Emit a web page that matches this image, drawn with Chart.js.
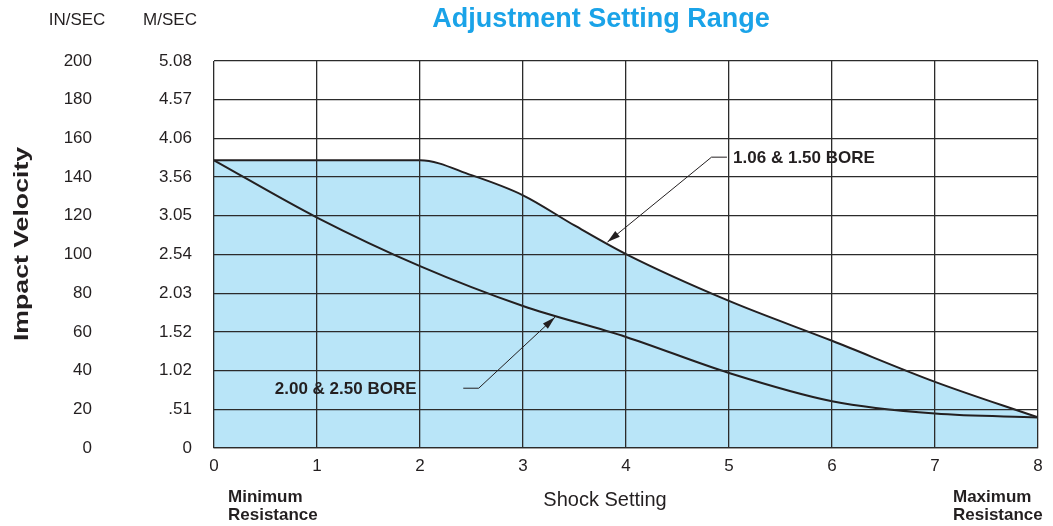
<!DOCTYPE html>
<html>
<head>
<meta charset="utf-8">
<title>Adjustment Setting Range</title>
<script src="https://cdn.jsdelivr.net/npm/chart.js@4.4.1/dist/chart.umd.min.js"></script>
<style>
  html, body { margin: 0; padding: 0; background: #fff; }
  #wrap { position: relative; width: 1053px; height: 526px; }
</style>
</head>
<body>
<div id="wrap"><canvas id="chart"></canvas></div>
<script>
  /* ---------- data ---------- */
  // shock setting positions, 0 = minimum resistance, 8 = maximum
  const SETTING_TICKS = ['0', '1', '2', '3', '4', '5', '6', '7', '8'];
  const IN_SEC_TICKS = ['0', '20', '40', '60', '80', '100', '120', '140', '160', '180', '200'];
  const M_SEC_TICKS = ['0', '.51', '1.02', '1.52', '2.03', '2.54', '3.05', '3.56', '4.06', '4.57', '5.08'];

  // 1.06 & 1.50 bore (upper edge of range), in/sec
  const BORE_SMALL_X = [0, 1, 2, 2.5, 3, 3.5, 4, 5, 6, 7, 8];
  const BORE_SMALL_Y = [148.7, 148.7, 148.7, 141, 130.6, 115, 100.2, 76, 55.4, 34.2, 15.8];

  // 2.00 & 2.50 bore, in/sec
  const BORE_LARGE_X = [0, 1, 2, 3, 4, 5, 6, 7, 8];
  const BORE_LARGE_Y = [148.7, 119.1, 94, 73.4, 57.4, 38.8, 24.2, 17.8, 15.8];

  const SERIES_NAMES = ['1.06 & 1.50 BORE', '2.00 & 2.50 BORE'];

  /* ---------- look ---------- */
  const INK = '#231f20';
  const GRID = '#2b2b2b';
  const FILL = '#b9e5f8';
  const TITLE_BLUE = '#1aa3e8';
  const FONT = "'Liberation Sans', Arial, Helvetica, sans-serif";

  // leader lines: tip on the curve, elbow, end of the short flat bit, label (data units)
  const CALLOUTS = [
    { text: SERIES_NAMES[0], tip: [3.82, 106.4], elbow: [4.83, 150.3], end: [4.98, 150.3], align: 'left', at: [5.04, 150.3] },
    { text: SERIES_NAMES[1], tip: [3.31, 67.6], elbow: [2.57, 30.9], end: [2.42, 30.9], align: 'left', at: [0.59, 30.9] }
  ];

  const toPoints = (xs, ys) => xs.map((x, i) => ({ x: x, y: ys[i] }));

  function arrow(ctx, fx, fy, tx, ty) {
    const a = Math.atan2(ty - fy, tx - fx);
    const len = 13, half = 3.6;
    ctx.beginPath();
    ctx.moveTo(tx, ty);
    ctx.lineTo(tx - len * Math.cos(a) + half * Math.sin(a), ty - len * Math.sin(a) - half * Math.cos(a));
    ctx.lineTo(tx - len * Math.cos(a) - half * Math.sin(a), ty - len * Math.sin(a) + half * Math.cos(a));
    ctx.closePath();
    ctx.fill();
  }

  // all the loose text of the sheet + callout arrows
  const sheetText = {
    id: 'sheetText',
    afterDraw(chart) {
      const { ctx, scales: { x, y } } = chart;
      ctx.save();
      ctx.textBaseline = 'middle';

      // title
      ctx.fillStyle = TITLE_BLUE;
      ctx.font = 'bold 27px ' + FONT;
      ctx.textAlign = 'center';
      ctx.fillText('Adjustment Setting Range', 601, 20);

      ctx.fillStyle = INK;
      ctx.font = '17px ' + FONT;
      ctx.fillText('IN/SEC', 77, 20);
      ctx.fillText('M/SEC', 170, 20);

      // y title, stretched like the original
      ctx.save();
      ctx.translate(22, 244);
      ctx.rotate(-Math.PI / 2);
      ctx.scale(1.27, 1);
      ctx.font = 'bold 21px ' + FONT;
      ctx.fillText('Impact Velocity', 0, 0);
      ctx.restore();

      ctx.font = '20px ' + FONT;
      ctx.fillText('Shock Setting', 605, 500);

      ctx.textAlign = 'left';
      ctx.font = 'bold 17px ' + FONT;
      ctx.fillText('Minimum', 228, 497);
      ctx.fillText('Resistance', 228, 515);
      ctx.fillText('Maximum', 953, 497);
      ctx.fillText('Resistance', 953, 515);

      // callouts
      ctx.strokeStyle = INK;
      ctx.lineWidth = 1;
      CALLOUTS.forEach(c => {
        const tx = x.getPixelForValue(c.tip[0]), ty = y.getPixelForValue(c.tip[1]);
        const ex = x.getPixelForValue(c.elbow[0]), ey = y.getPixelForValue(c.elbow[1]);
        const nx = x.getPixelForValue(c.end[0]), ny = y.getPixelForValue(c.end[1]);
        ctx.beginPath();
        ctx.moveTo(nx, ny);
        ctx.lineTo(ex, ey);
        ctx.lineTo(tx, ty);
        ctx.stroke();
        arrow(ctx, ex, ey, tx, ty);
        ctx.font = 'bold 17px ' + FONT;
        ctx.textAlign = c.align;
        ctx.fillText(c.text, x.getPixelForValue(c.at[0]), y.getPixelForValue(c.at[1]) + 1);
      });
      ctx.restore();
    }
  };

  const tickFont = { family: FONT, size: 17 };

  new Chart(document.getElementById('chart').getContext('2d'), {
    type: 'line',
    data: {
      datasets: [{
        label: SERIES_NAMES[0],
        data: toPoints(BORE_SMALL_X, BORE_SMALL_Y),
        borderColor: INK,
        borderWidth: 2,
        backgroundColor: FILL,
        fill: 'origin',
        cubicInterpolationMode: 'monotone',
        pointRadius: 0
      }, {
        label: SERIES_NAMES[1],
        data: toPoints(BORE_LARGE_X, BORE_LARGE_Y),
        borderColor: INK,
        borderWidth: 2,
        fill: false,
        cubicInterpolationMode: 'monotone',
        pointRadius: 0
      }]
    },
    options: {
      responsive: true,
      maintainAspectRatio: false,
      animation: false,
      layout: { padding: { top: 61, right: 15, bottom: 0, left: 0 } },
      plugins: {
        legend: { display: false },
        tooltip: { enabled: false },
        title: { display: false },
        // fill first, so the second curve stays on top of the blue
        filler: { drawTime: 'beforeDatasetsDraw' }
      },
      scales: {
        x: {
          type: 'linear',
          min: 0,
          max: 8,
          afterFit: s => { s.height = 78; },
          ticks: {
            stepSize: 1,
            padding: 8,
            color: INK,
            font: tickFont,
            callback: (v, i) => SETTING_TICKS[i]
          },
          grid: { color: GRID, lineWidth: 1.3, drawTicks: false, z: 1 },
          border: { display: true, color: GRID, width: 1.3, z: 1 }
        },
        y: {
          position: 'left',
          weight: 1,
          min: 0,
          max: 200,
          afterFit: s => { s.width = 100; },
          ticks: {
            stepSize: 20,
            padding: 8,
            color: INK,
            font: tickFont,
            callback: (v, i) => IN_SEC_TICKS[i]
          },
          grid: { color: GRID, lineWidth: 1.3, drawTicks: false, z: 1 },
          border: { display: false }
        },
        yM: {
          position: 'left',
          weight: 0,
          min: 0,
          max: 200,
          afterFit: s => { s.width = 114; },
          ticks: {
            stepSize: 20,
            padding: 22,
            color: INK,
            font: tickFont,
            callback: (v, i) => M_SEC_TICKS[i]
          },
          grid: { display: false, drawTicks: false },
          border: { display: false }
        }
      }
    },
    plugins: [sheetText]
  });
</script>
</body>
</html>
